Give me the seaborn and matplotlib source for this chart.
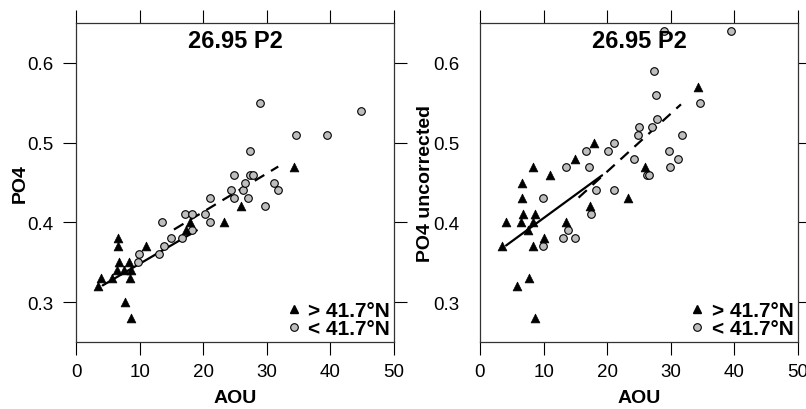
import numpy as np
import pandas as pd
import matplotlib
matplotlib.use("Agg")
import matplotlib.pyplot as plt
import seaborn as sns
from matplotlib.lines import Line2D

# ---- data ----
# left panel: PO4 (corrected)
aou_north_left = [3.4, 4.0, 5.7, 6.65, 6.65, 6.8, 6.4, 7.6, 8.4, 8.6, 8.5, 7.7, 8.65,
                  11.0, 17.3, 17.9, 23.3, 25.9, 34.2]
po4_north_left = [0.32, 0.33, 0.33, 0.38, 0.37, 0.35, 0.34, 0.34, 0.35, 0.34, 0.33, 0.30, 0.28,
                  0.37, 0.39, 0.40, 0.40, 0.42, 0.47]
aou_south_left = [9.9, 9.7, 13.1, 13.5, 13.9, 15.0, 16.6, 17.2, 18.2, 18.2, 20.3, 21.1, 21.1,
                  24.3, 24.9, 26.3, 27.1, 26.5, 29.7, 31.2, 31.7, 29.0, 44.8, 34.6, 39.4,
                  27.3, 24.8, 27.4, 27.9]
po4_south_left = [0.36, 0.35, 0.36, 0.40, 0.37, 0.38, 0.38, 0.41, 0.41, 0.39, 0.41, 0.40, 0.43,
                  0.44, 0.43, 0.44, 0.43, 0.45, 0.42, 0.45, 0.44, 0.55, 0.54, 0.51, 0.51,
                  0.49, 0.46, 0.46, 0.46]

# right panel: PO4 uncorrected
aou_north_right = [3.4, 4.1, 5.8, 6.65, 6.65, 6.4, 6.8, 7.6, 7.75, 8.6, 8.4, 8.3, 8.65,
                   10.1, 13.6, 17.3, 23.3, 8.4, 11.0, 15.0, 17.9, 25.9, 34.2]
po4_north_right = [0.37, 0.40, 0.32, 0.45, 0.43, 0.40, 0.41, 0.39, 0.33, 0.41, 0.40, 0.37, 0.28,
                   0.38, 0.40, 0.42, 0.43, 0.47, 0.46, 0.48, 0.50, 0.47, 0.57]
aou_south_right = [9.85, 9.85, 13.0, 13.9, 15.0, 17.5, 18.2, 21.1, 13.5, 16.6, 17.1, 20.2, 21.1,
                   24.2, 24.8, 24.95, 26.2, 26.5, 27.1, 27.8, 27.3, 27.6, 29.0, 29.7, 29.8,
                   31.1, 31.7, 34.6, 39.4]
po4_south_right = [0.37, 0.43, 0.38, 0.39, 0.38, 0.41, 0.44, 0.44, 0.47, 0.49, 0.47, 0.49, 0.50,
                   0.48, 0.51, 0.52, 0.46, 0.46, 0.52, 0.53, 0.59, 0.56, 0.64, 0.49, 0.47,
                   0.48, 0.51, 0.55, 0.64]

# fitted lines (end points)
fit_north_left_x = [4.2, 19.0]
fit_north_left_y = [0.321, 0.390]
fit_south_left_x = [15.4, 31.8]
fit_south_left_y = [0.391, 0.470]
fit_north_right_x = [4.1, 19.2]
fit_north_right_y = [0.371, 0.459]
fit_south_right_x = [15.5, 31.6]
fit_south_right_y = [0.431, 0.548]

title = "26.95 P2"
label_north = "> 41.7°N"
label_south = "< 41.7°N"
x_ticks = [0, 10, 20, 30, 40, 50]
y_ticks = [0.3, 0.4, 0.5, 0.6]

sns.set_theme(style="white")
plt.rcParams['font.family'] = ['Liberation Sans', 'DejaVu Sans']
plt.rcParams['text.color'] = 'black'
plt.rcParams['axes.labelcolor'] = 'black'
plt.rcParams['xtick.color'] = 'black'
plt.rcParams['ytick.color'] = 'black'


def draw_panel(ax, aou_n, po4_n, aou_s, po4_s, fit_n, fit_s, ylabel, ypad):
    df_n = pd.DataFrame({"AOU": aou_n, "PO4": po4_n})
    df_s = pd.DataFrame({"AOU": aou_s, "PO4": po4_s})
    sns.scatterplot(data=df_s, x="AOU", y="PO4", marker="o", s=30, color="#bebebe",
                    edgecolor="black", linewidth=0.8, ax=ax, zorder=3)
    sns.scatterplot(data=df_n, x="AOU", y="PO4", marker="^", s=40, color="black",
                    edgecolor="black", linewidth=0.5, ax=ax, zorder=3)
    ax.plot(fit_n[0], fit_n[1], color="black", lw=1.6, zorder=2)
    ax.plot(fit_s[0], fit_s[1], color="black", lw=1.6, ls=(0, (5, 3.5)), zorder=2)

    ax.set_xlim(0, 50)
    ax.set_ylim(0.25, 0.65)
    ax.set_xticks(x_ticks)
    ax.set_yticks(y_ticks)
    ax.set_xticklabels([str(t) for t in x_ticks])
    ax.set_yticklabels([f"{t:.1f}" for t in y_ticks])

    ax.tick_params(axis="both", direction="out", length=9.5, width=0.8, color="black",
                   labelsize=13.5, top=True, right=True, bottom=True, left=True,
                   labeltop=False, labelright=False, labelcolor="black")
    ax.tick_params(axis="x", pad=5.5)
    ax.tick_params(axis="y", pad=ypad)
    for sp in ax.spines.values():
        sp.set_color("#333333")
        sp.set_linewidth(0.9)

    ax.text(0.5, 0.945, title, transform=ax.transAxes, ha="center", va="center",
            fontsize=17, fontweight="bold", color="black")

    ax.set_xlabel("AOU", fontsize=14, fontweight="bold")
    ax.set_ylabel(ylabel, fontsize=14, fontweight="bold")
    ax.xaxis.set_label_coords(0.5, -0.148)

    handles = [
        Line2D([], [], marker="^", ls="", color="black", markersize=6),
        Line2D([], [], marker="o", ls="", markerfacecolor="#bebebe",
               markeredgecolor="black", markersize=5.5, markeredgewidth=0.8),
    ]
    ax.legend(handles, [label_north, label_south], loc="lower right", frameon=False,
              prop={"size": 15, "weight": "bold"}, handlelength=0.6, handletextpad=0.4,
              labelspacing=-0.08, borderaxespad=0.0, borderpad=0.2)


fig = plt.figure(figsize=(8.06, 4.10), dpi=100)
ax1 = fig.add_axes([76 / 806, 67 / 410, 318 / 806, 319 / 410])
ax2 = fig.add_axes([480 / 806, 67 / 410, 318 / 806, 319 / 410])

draw_panel(ax1, aou_north_left, po4_north_left, aou_south_left, po4_south_left,
           (fit_north_left_x, fit_north_left_y), (fit_south_left_x, fit_south_left_y),
           "PO4", 7)
draw_panel(ax2, aou_north_right, po4_north_right, aou_south_right, po4_south_right,
           (fit_north_right_x, fit_north_right_y), (fit_south_right_x, fit_south_right_y),
           "PO4 uncorrected", 5)

# right panel keeps its y labels but has no inner ticks
ax2.tick_params(axis="y", left=False)

ax1.yaxis.set_label_coords(-0.15, 0.5)
ax2.yaxis.set_label_coords(-0.145, 0.5)

fig.savefig("out.png", dpi=100)
